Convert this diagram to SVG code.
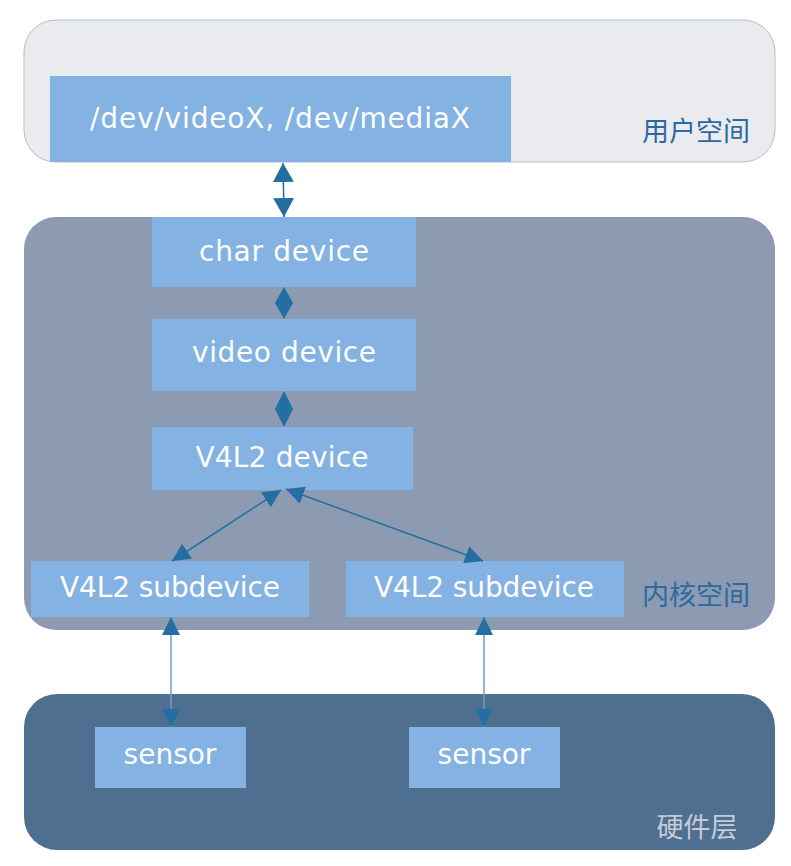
<svg xmlns="http://www.w3.org/2000/svg" width="791" height="866" viewBox="0 0 791 866">
<style>
.box{fill:#84b2e2;}
.lbl{font-family:"DejaVu Sans","Liberation Sans",sans-serif;font-size:28px;fill:#ffffff;text-anchor:middle;}
.zone{font-family:"Noto Sans CJK SC",sans-serif;font-size:27px;}
.conn{stroke:#236ea3;stroke-width:1.5;fill:none;}
.vconn{stroke:#6f9cc4;stroke-width:1.5;fill:none;}
.dia{fill:#236ea3;}
</style>
<defs>
<marker id="ah" viewBox="0 0 18 18" markerUnits="userSpaceOnUse" markerWidth="18" markerHeight="18" refX="18" refY="9" orient="auto-start-reverse">
<path d="M0,0 L18,9 L0,18 z" fill="#236ea3"/>
</marker>
<marker id="ahb" viewBox="0 0 19 21" markerUnits="userSpaceOnUse" markerWidth="19" markerHeight="21" refX="19" refY="10.5" orient="auto-start-reverse">
<path d="M0,0 L19,10.5 L0,21 z" fill="#236ea3"/>
</marker>
</defs>
<g id="zone-user">
<rect x="24" y="20" width="751" height="142" rx="32" fill="#e9ebef" stroke="#b3bdcb" stroke-width="1"/>
<text class="zone" x="696" y="141" fill="#2a6a9e" text-anchor="middle">用户空间</text>
</g>
<g id="zone-kernel">
<rect x="24" y="217" width="751" height="413" rx="32" fill="#8c9bb1"/>
<text class="zone" x="696" y="605" fill="#2a6a9e" text-anchor="middle">内核空间</text>
</g>
<g id="zone-hw">
<rect x="24" y="694" width="751" height="156" rx="33" fill="#4f6f91"/>
<text class="zone" x="697" y="837" fill="#c5ccd6" text-anchor="middle">硬件层</text>
</g>
<g id="node-dev">
<rect class="box" x="50" y="76" width="461" height="86"/>
<text class="lbl" x="280" y="128" textLength="380" lengthAdjust="spacing">/dev/videoX, /dev/mediaX</text>
</g>
<g id="node-char">
<rect class="box" x="152" y="217" width="264" height="70"/>
<text class="lbl" x="284" y="261" textLength="170" lengthAdjust="spacing">char device</text>
</g>
<g id="node-video">
<rect class="box" x="152" y="319" width="264" height="72"/>
<text class="lbl" x="284" y="362" textLength="184" lengthAdjust="spacing">video device</text>
</g>
<g id="node-v4l2">
<rect class="box" x="152" y="427" width="261" height="63"/>
<text class="lbl" x="282" y="467" textLength="173" lengthAdjust="spacing">V4L2 device</text>
</g>
<g id="node-sub1">
<rect class="box" x="31" y="561" width="278" height="56"/>
<text class="lbl" x="170" y="597" textLength="220" lengthAdjust="spacing">V4L2 subdevice</text>
</g>
<g id="node-sub2">
<rect class="box" x="346" y="561" width="278" height="56"/>
<text class="lbl" x="484" y="597" textLength="220" lengthAdjust="spacing">V4L2 subdevice</text>
</g>
<g id="node-sensor1">
<rect class="box" x="95" y="727" width="151" height="61"/>
<text class="lbl" x="170" y="764">sensor</text>
</g>
<g id="node-sensor2">
<rect class="box" x="409" y="727" width="151" height="61"/>
<text class="lbl" x="484" y="764">sensor</text>
</g>
<g id="connectors">
<line class="conn" x1="283" y1="163" x2="284" y2="217" stroke-width="2" marker-start="url(#ahb)" marker-end="url(#ahb)"/>
<polygon class="dia" points="284,287 293,303 284,319 275,303"/>
<polygon class="dia" points="284,391 293,409 284,427 275,409"/>
<line class="conn" x1="281" y1="490" x2="172" y2="561" marker-start="url(#ah)" marker-end="url(#ah)"/>
<line class="conn" x1="286" y1="489" x2="483" y2="561" marker-start="url(#ah)" marker-end="url(#ah)"/>
<line class="vconn" x1="171" y1="617" x2="171" y2="727" marker-start="url(#ah)" marker-end="url(#ah)"/>
<line class="vconn" x1="484" y1="617" x2="484" y2="727" marker-start="url(#ah)" marker-end="url(#ah)"/>
</g>
</svg>
